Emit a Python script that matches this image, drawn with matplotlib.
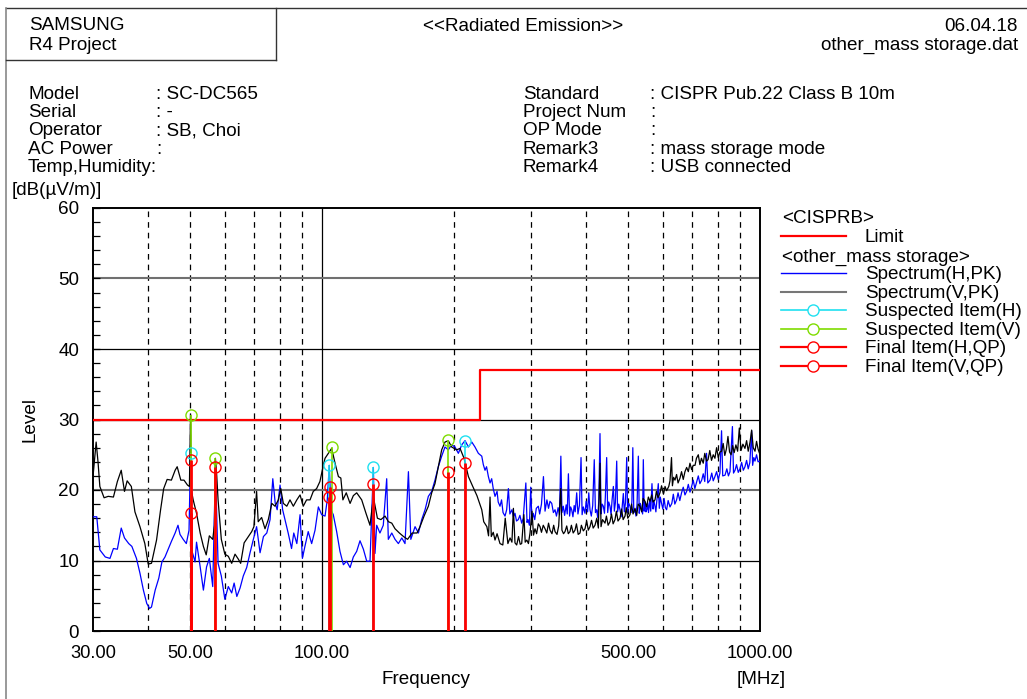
import matplotlib
matplotlib.use('Agg')
import matplotlib.pyplot as plt
from matplotlib.ticker import MultipleLocator, NullLocator, FixedLocator

plt.rcParams['font.family'] = ['Liberation Sans', 'DejaVu Sans']

# ---- data ----
limit_freq = [30, 230, 230, 1000]
limit_level = [30, 30, 37, 37]

# Spectrum(H,PK)
spec_h = [
    (30.0, 16.2), (30.6, 16.2), (31.1, 11.5), (32.0, 10.5), (32.8, 10.3), (33.4, 11.7),
    (34.1, 11.6), (34.8, 14.6), (35.4, 13.2), (36.2, 12.4), (36.8, 12.0), (37.7, 10.3),
    (38.4, 8.2), (39.1, 5.8), (39.8, 3.9), (40.4, 3.2), (40.8, 3.4), (41.6, 5.8),
    (42.4, 7.5), (43.1, 9.8), (43.8, 10.5), (44.6, 11.7), (45.3, 12.7), (46.2, 13.9),
    (46.9, 15.0), (47.4, 13.7), (48.2, 13.0), (49.0, 12.4), (49.7, 14.3), (50.1, 25.0),
    (50.4, 11.5), (51.3, 9.8), (51.7, 12.6), (52.7, 9.1), (53.6, 5.8), (54.5, 9.1),
    (55.3, 10.3), (56.3, 6.3), (57.1, 23.0), (57.9, 9.6), (58.9, 7.8), (60.0, 4.5),
    (61.1, 6.3), (62.2, 5.4), (63.0, 6.8), (63.9, 4.9), (65.0, 6.1), (66.1, 7.8),
    (67.3, 9.0), (68.5, 11.1), (69.7, 13.0), (70.9, 14.8), (72.2, 11.1), (73.5, 13.4),
    (74.8, 13.9), (76.1, 15.8), (77.2, 21.6), (78.2, 18.1), (79.0, 17.2), (80.2, 20.7),
    (81.3, 17.2), (82.7, 15.3), (83.7, 13.9), (85.2, 11.7), (86.2, 13.9), (87.6, 12.4),
    (89.1, 16.5), (90.2, 10.3), (91.4, 12.0), (93.0, 14.1), (94.7, 12.4), (96.4, 14.3),
    (98.1, 17.6), (99.8, 16.5), (101.6, 16.3), (102.8, 18.6), (103.9, 23.5), (104.8, 17.2),
    (106.1, 16.5), (108.0, 14.1), (109.9, 11.3), (111.9, 9.4), (113.8, 9.9), (115.9, 9.0),
    (117.9, 10.5), (120.0, 11.3), (122.1, 12.8), (124.3, 11.6), (126.5, 9.9), (128.7, 9.9),
    (131.0, 23.2), (132.1, 11.0), (133.3, 15.0), (135.6, 13.9), (138.0, 15.0), (140.5, 21.6),
    (141.7, 13.0), (144.3, 13.9), (146.8, 13.0), (149.4, 12.4), (152.1, 13.2), (154.7, 12.4),
    (157.5, 22.6), (159.5, 13.0), (163.1, 14.8), (166.0, 13.9), (168.9, 15.8), (171.9, 17.2),
    (174.9, 19.1), (178.0, 19.8), (181.1, 21.4), (184.3, 23.3), (187.6, 24.8), (190.9, 26.1),
    (194.2, 25.7), (197.7, 26.4), (201.2, 26.1), (204.8, 25.2), (208.4, 26.4), (212.1, 27.0),
    (215.9, 26.1), (219.8, 26.8), (223.5, 26.1), (227.5, 25.2), (231.6, 24.8), (233.5, 23.6),
    (235.6, 22.8), (237.5, 23.3), (239.8, 21.9), (241.9, 21.0), (244, 21.6), (246, 20.2),
    (248.3, 19.1), (251, 19.8), (252.5, 18.3), (254.9, 17.7), (257, 18.6), (259, 16.8),
    (261.7, 16.3), (264, 17.2), (266.4, 20.2), (268.5, 16.6), (271.4, 17.2), (273.5, 16.2),
    (275.8, 16.7), (278, 15.6), (280.6, 15.8), (283, 16.4), (285.7, 15.3), (288, 16.0),
    (292.0, 21.0), (293.8, 15.4), (295.4, 15.8), (297.5, 15.0), (299.6, 20.4), (301.5, 15.6),
    (303.6, 16.7), (306, 15.8), (308.5, 17.4), (311.8, 17.7), (314, 16.6), (317, 18.0),
    (320.3, 21.9), (323, 17.0), (326.2, 18.6), (329, 17.4), (331.5, 18.4), (334.6, 18.1),
    (337.5, 16.8), (340.4, 17.2), (343, 16.3), (346, 17.5), (348.5, 16.5), (351.0, 24.8),
    (353, 16.8), (355.5, 17.7), (358, 16.4), (361, 17.9), (363, 16.6), (365.2, 22.3),
    (367.5, 16.3), (369.5, 17.6), (371.6, 17.2), (374, 16.2), (376.5, 17.8), (378.5, 16.9),
    (381.5, 19.6), (384, 16.6), (387, 17.8), (390.3, 24.6), (392.5, 16.5), (395, 17.6),
    (398.5, 16.7), (401, 18.4), (404, 16.9), (406.5, 19.6), (409.1, 17.2), (412, 16.3),
    (415, 17.8), (418.4, 24.3), (421, 16.8), (423.7, 17.2), (426, 16.1), (428.5, 18.4),
    (431.2, 28.0), (433.5, 16.6), (436, 18.0), (438.8, 17.7), (441.5, 16.7), (443.5, 19.0),
    (446.6, 24.6), (449, 16.8), (451.5, 18.3), (454.5, 17.7), (457, 16.5), (459.5, 18.6),
    (462.6, 20.5), (465, 17.0), (467.5, 18.2), (470.8, 24.1), (473, 16.9), (476, 18.0),
    (479.0, 17.2), (482, 16.2), (484.5, 17.6), (487.5, 19.5), (490, 16.9), (493, 18.2),
    (496.2, 24.6), (498.5, 16.8), (501.5, 18.1), (504.9, 17.7), (508, 16.8), (510, 18.5),
    (512.4, 26.0), (515, 16.8), (518.3, 17.2), (521, 16.3), (524, 18.0), (527.5, 24.8),
    (530, 16.7), (533, 18.1), (537, 17.2), (539.5, 16.6), (541.5, 24.3), (544, 17.0),
    (546.5, 18.3), (549, 16.9), (551.5, 17.2), (554, 18.2), (556.5, 16.8), (560, 18.5),
    (563, 17.0), (566.7, 20.9), (570, 17.3), (572.5, 18.5), (575.8, 17.7), (578.5, 16.9),
    (581.5, 18.6), (585.8, 20.9), (589, 17.4), (592, 19.0), (596, 18.1), (600, 17.3),
    (604, 18.8), (608, 17.5), (612, 17.2), (617, 18.5), (623, 17.6), (629, 18.1),
    (634, 19.4), (639, 18.0), (645, 18.6), (650, 19.6), (656, 18.5), (662, 19.6),
    (668, 20.4), (674, 19.3), (680, 19.8), (686, 20.8), (692, 19.7), (698, 20.5),
    (704, 21.4), (710, 20.2), (717, 21.2), (723, 22.0), (729, 20.9), (736, 21.4),
    (742, 22.3), (748, 21.2), (755, 25.2), (760, 21.0), (769, 21.4), (776, 22.4),
    (782, 21.3), (789, 21.9), (796, 22.6), (803, 21.5), (810, 22.4), (817, 28.4),
    (822, 22.0), (832, 22.1), (840, 23.0), (847, 22.0), (854, 22.6), (865, 29.0),
    (870, 22.4), (877, 22.8), (884, 23.6), (892, 22.5), (900, 23.0), (908, 23.9),
    (916, 22.8), (924, 23.3), (932, 24.2), (940, 23.0), (948, 23.9), (957, 28.4),
    (962, 23.5), (968, 24.6), (974, 24.1), (982, 25.0), (990, 24.0), (1000, 24.1),
]

# Spectrum(V,PK)
spec_v = [
    (30.0, 21.9), (30.5, 26.8), (30.8, 24.0), (31.1, 20.5), (31.8, 18.9), (32.5, 19.1),
    (33.4, 19.0), (34.1, 21.2), (34.8, 22.8), (35.4, 19.8), (35.9, 21.3), (36.7, 20.5),
    (37.4, 16.9), (38.4, 14.8), (39.4, 12.4), (40.1, 9.5), (40.8, 9.6), (41.9, 12.9),
    (42.8, 17.2), (43.5, 20.2), (44.3, 21.5), (45.3, 21.4), (46.2, 22.8), (46.7, 23.3),
    (47.6, 21.4), (48.4, 21.4), (49.3, 20.7), (49.8, 20.5), (50.1, 30.7), (50.3, 20.0),
    (50.8, 18.6), (51.7, 16.7), (52.7, 13.9), (53.6, 12.0), (54.4, 10.8), (55.3, 13.5),
    (56.3, 13.0), (56.8, 15.0), (57.1, 24.5), (57.5, 22.0), (57.9, 18.6), (58.9, 13.0),
    (60.0, 10.9), (61.1, 10.6), (62.2, 9.6), (63.3, 10.9), (64.4, 10.2), (65.2, 9.6),
    (66.4, 12.5), (67.9, 13.4), (69.1, 14.1), (69.9, 14.8), (70.9, 19.8), (71.5, 15.5),
    (72.8, 16.1), (74.1, 14.5), (75.4, 15.8), (76.8, 18.1), (78.1, 17.7), (79.5, 18.6),
    (80.5, 20.2), (81.6, 18.1), (83.1, 17.7), (84.5, 18.6), (86.0, 17.7), (87.6, 18.6),
    (89.1, 19.3), (90.6, 17.7), (92.2, 18.6), (93.9, 18.6), (95.5, 19.8), (97.2, 20.2),
    (98.9, 21.2), (100.7, 23.5), (101.6, 24.5), (103.4, 25.2), (105.2, 25.9), (107.1, 23.8),
    (109.0, 21.9), (110.4, 21.7), (111.6, 18.6), (113.6, 19.6), (115.9, 18.1), (117.9, 19.2),
    (120.0, 19.6), (123.2, 18.6), (126.0, 16.7), (128.7, 15.0), (131.0, 19.0), (133.8, 16.0),
    (136.3, 15.8), (139.3, 16.3), (141.8, 15.5), (144.3, 15.3), (146.8, 14.5), (150.2, 13.9),
    (153.5, 13.4), (156.8, 13.0), (160.6, 13.9), (164.8, 13.9), (167.4, 14.8), (171.0, 16.3),
    (174.9, 17.7), (178.0, 19.6), (181.1, 20.9), (184.3, 23.3), (187.6, 25.7), (190.9, 26.8),
    (194.2, 27.0), (197.7, 26.1), (203.0, 25.7), (206.6, 25.9), (211.0, 24.5), (215.9, 21.9),
    (220.9, 20.5), (225.8, 19.2), (231.6, 17.2), (234, 15.5), (237.9, 14.8), (240, 13.5),
    (241.9, 19.0), (243.5, 13.4), (246, 14.0), (248.3, 12.9), (251, 13.8), (254.9, 12.4),
    (258.7, 12.2), (262, 16.0), (265.7, 12.4), (268.7, 13.2), (271.4, 12.6), (273.5, 17.4),
    (275.8, 12.5), (278.3, 12.2), (281, 13.4), (283.5, 12.3), (285.7, 12.4), (289, 16.5),
    (291, 12.6), (293.5, 12.9), (296, 12.4), (298.5, 13.9), (301.6, 17.0), (304, 13.6),
    (306.4, 14.5), (309, 13.8), (311.8, 15.2), (314.6, 14.8), (317, 14.0), (320, 15.0),
    (323, 14.5), (326, 13.9), (329, 15.3), (331.6, 14.3), (335, 13.8), (338, 15.0),
    (340.4, 14.1), (344, 13.7), (347, 14.9), (350.8, 20.2), (353, 14.3), (356, 13.8),
    (358.8, 14.1), (362, 14.9), (365, 13.8), (368.3, 14.1), (371, 15.0), (374.5, 13.9),
    (378.1, 14.3), (381, 15.2), (384.5, 13.7), (388.2, 13.9), (391, 15.0), (395, 14.2),
    (398.5, 14.5), (402, 15.6), (405.5, 14.3), (409.1, 14.8), (412.5, 15.7), (416, 14.6),
    (420, 15.0), (424, 16.0), (427.5, 14.6), (431.2, 23.8), (433.5, 14.8), (437, 15.8),
    (442.7, 15.3), (446, 16.3), (450, 15.0), (454.5, 15.5), (458, 16.6), (462, 15.2),
    (466.6, 15.8), (470, 17.0), (474, 15.6), (479.0, 16.0), (483, 17.3), (487, 15.8),
    (491.8, 16.3), (495, 17.5), (499, 16.0), (504.9, 16.5), (509, 18.0), (513, 16.6),
    (518.3, 17.4), (523, 16.4), (527, 18.0), (532, 17.7), (537, 16.9), (541, 18.8),
    (546.3, 18.4), (551, 17.6), (556, 19.0), (561, 18.4), (566, 19.3), (570, 18.3),
    (575.8, 18.6), (580, 19.8), (585, 18.9), (591, 19.6), (596, 20.6), (602, 19.4),
    (607, 20.5), (612, 19.9), (619, 20.5), (623, 21.3), (628, 24.6), (631, 20.6),
    (635, 21.8), (639.6, 21.4), (645, 22.2), (650, 21.0), (656.7, 21.7), (662, 22.6),
    (668, 21.5), (674, 22.6), (680, 23.2), (686, 22.6), (692, 23.8), (698, 22.9),
    (704, 23.5), (710.6, 23.5), (716, 24.5), (723, 25.0), (729, 23.6), (735, 24.5),
    (742, 23.8), (748, 25.2), (755, 24.1), (761, 24.3), (768, 25.6), (775, 24.2),
    (782, 25.0), (789, 24.5), (796, 26.0), (803, 24.6), (810, 25.4), (817, 25.5),
    (824, 26.6), (831, 24.9), (838, 25.8), (845, 27.6), (852, 25.4), (859, 25.0),
    (866, 26.3), (873, 25.3), (881, 26.4), (889, 25.5), (897, 28.8), (905, 25.6),
    (914, 26.5), (924, 25.9), (932, 27.0), (940, 25.5), (949, 26.8), (957, 28.5),
    (965, 26.0), (974, 25.5), (982, 26.9), (990, 25.8), (1000, 25.0),
]

susp_h_freq = [50.1, 103.9, 131.0, 212.1]
susp_h_level = [25.2, 23.5, 23.2, 27.0]
susp_v_freq = [50.1, 57.1, 105.2, 194.2]
susp_v_level = [30.7, 24.6, 26.1, 27.1]
final_h_freq = [50.1, 103.9, 131.0, 212.1]
final_h_level = [16.8, 19.0, 20.9, 23.9]
final_v_freq = [50.1, 57.1, 104.3, 194.2]
final_v_level = [24.2, 23.2, 20.4, 22.6]

xtick_vals = [30, 50, 100, 500, 1000]
xtick_labels = ['30.00', '50.00', '100.00', '500.00', '1000.00']
dash_grid = [40, 50, 60, 70, 80, 90, 200, 300, 400, 500, 600, 700, 800, 900]

header_left = [('Model', ': SC-DC565'), ('Serial', ': -'), ('Operator', ': SB, Choi'),
               ('AC Power', ':'), ('Temp,Humidity:', '')]
header_right = [('Standard', ': CISPR Pub.22 Class B 10m'), ('Project Num', ':'),
                ('OP Mode', ':'), ('Remark3', ': mass storage mode'),
                ('Remark4', ': USB connected')]

CYAN = '#1fe0f0'
GREEN = '#7fdc00'
RED = '#ff0000'
FS = 13.6

W, H = 1027, 699
fig = plt.figure(figsize=(W / 100, H / 100), dpi=100)
ax = fig.add_axes([93 / W, 68 / H, 667 / W, 423 / H])

ax.set_xscale('log')
ax.set_xlim(30, 1000)
ax.set_ylim(0, 60)

# grid
for f in dash_grid:
    ax.axvline(f, color='black', lw=0.9, ls=(0, (4.5, 4)), zorder=1)
ax.axvline(100, color='black', lw=0.9, zorder=1)
for lv in [10, 30, 40]:
    ax.axhline(lv, color='black', lw=0.9, zorder=1)
for lv in [20, 50]:
    ax.axhline(lv, color='#707070', lw=1.5, zorder=1)

ax.plot(limit_freq, limit_level, color=RED, lw=1.6, zorder=3)

hf, hl = zip(*spec_h)
vf, vl = zip(*spec_v)
ax.plot(hf, hl, color='#0000ff', lw=0.9, zorder=4)
ax.plot(vf, vl, color='black', lw=0.9, zorder=5)

# suspected items
ax.vlines(susp_h_freq, 0, susp_h_level, color=CYAN, lw=1.2, zorder=6)
ax.vlines(susp_v_freq, 0, susp_v_level, color=GREEN, lw=1.2, zorder=6)
ax.plot(susp_h_freq, susp_h_level, 'o', ms=8, mfc='none', mec=CYAN, mew=1.0, zorder=8)
ax.plot(susp_v_freq, susp_v_level, 'o', ms=8, mfc='none', mec=GREEN, mew=1.0, zorder=8)

# final items
ax.vlines(final_h_freq, 0, final_h_level, color=RED, lw=2.0, zorder=7)
ax.vlines(final_v_freq, 0, final_v_level, color=RED, lw=2.0, zorder=7)
ax.plot(final_h_freq, final_h_level, 'o', ms=8, mfc='none', mec=RED, mew=1.0, zorder=9)
ax.plot(final_v_freq, final_v_level, 'o', ms=8, mfc='none', mec=RED, mew=1.0, zorder=9)

# axes styling
for s in ax.spines.values():
    s.set_linewidth(1.4)
    s.set_color('black')
ax.xaxis.set_major_locator(FixedLocator(xtick_vals))
ax.set_xticklabels(xtick_labels)
ax.xaxis.set_minor_locator(NullLocator())
ax.tick_params(axis='x', which='both', length=0, pad=10, labelsize=13.2)
ax.yaxis.set_major_locator(MultipleLocator(10))
ax.yaxis.set_minor_locator(MultipleLocator(2))
ax.tick_params(axis='y', which='both', direction='in', length=5, width=0.9,
               left=True, right=False, pad=10, labelsize=13.6)

# overlay in pixel coordinates for the page furniture
ov = fig.add_axes([0, 0, 1, 1], zorder=-1)
ov.set_xlim(0, W)
ov.set_ylim(H, 0)
ov.axis('off')

frame_kw = dict(color='#333333', lw=1.0)
ov.plot([6, W], [8, 8], **frame_kw)
ov.plot([6, 6], [8, H], color='#888888', lw=1.2)
ov.plot([276, 276], [8, 60], **frame_kw)
ov.plot([6, 276], [60, 60], **frame_kw)

ov.text(29, 30, 'SAMSUNG', fontsize=FS, va='baseline')
ov.text(29, 50, 'R4 Project', fontsize=FS, va='baseline')
ov.text(523, 31, '<<Radiated Emission>>', fontsize=FS, va='baseline', ha='center')
ov.text(1018, 31, '06.04.18', fontsize=FS, va='baseline', ha='right')
ov.text(1018, 50, 'other_mass storage.dat', fontsize=FS, va='baseline', ha='right')

for i, (lab, val) in enumerate(header_left):
    y = 99 + i * 18.2
    ov.text(28, y, lab, fontsize=FS, va='baseline')
    if val:
        ov.text(156, y, val, fontsize=FS, va='baseline')
for i, (lab, val) in enumerate(header_right):
    y = 99 + i * 18.2
    ov.text(523, y, lab, fontsize=FS, va='baseline')
    ov.text(650, y, val, fontsize=FS, va='baseline')

ov.text(12, 195, '[dB(\u00b5V/m)]', fontsize=FS, va='baseline')
ov.text(30, 420, 'Level', fontsize=FS, rotation=90, ha='center', va='center')
ov.text(426, 684, 'Frequency', fontsize=FS, ha='center', va='baseline')
ov.text(761, 684, '[MHz]', fontsize=FS, ha='center', va='baseline')

# legend
leg_rows = [
    ('<CISPRB>', None),
    ('Limit', dict(color=RED, lw=1.6)),
    ('<other_mass storage>', None),
    ('Spectrum(H,PK)', dict(color='#0000ff', lw=1.0)),
    ('Spectrum(V,PK)', dict(color='#777777', lw=1.5)),
    ('Suspected Item(H)', dict(color=CYAN, lw=1.2, marker='o', mec=CYAN)),
    ('Suspected Item(V)', dict(color=GREEN, lw=1.2, marker='o', mec=GREEN)),
    ('Final Item(H,QP)', dict(color=RED, lw=1.6, marker='o', mec=RED)),
    ('Final Item(V,QP)', dict(color=RED, lw=1.6, marker='o', mec=RED)),
]
leg_y = [217, 236, 256, 273, 292, 310, 329, 347, 366]
for (lab, style), y in zip(leg_rows, leg_y):
    if style is None:
        ov.text(782, y + 6, lab, fontsize=FS, va='baseline')
    else:
        st = dict(style)
        mk = st.pop('marker', None)
        mec = st.pop('mec', None)
        ov.plot([781, 846], [y, y], **st)
        if mk:
            ov.plot([813], [y], 'o', ms=8, mfc='white', mec=mec, mew=1.0)
        ov.text(865, y + 6, lab, fontsize=FS, va='baseline')

fig.savefig('out.png', dpi=100)
